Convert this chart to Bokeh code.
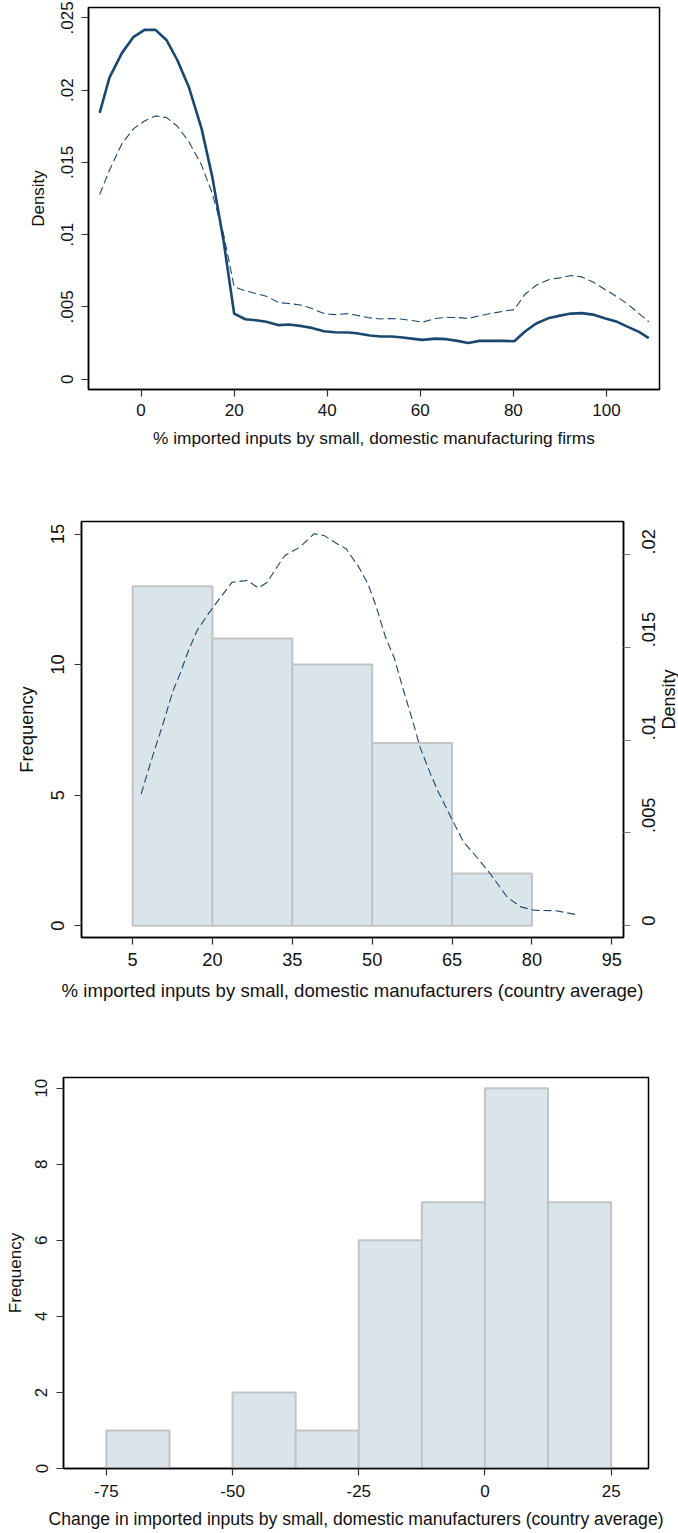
import math
from bokeh.plotting import figure
from bokeh.layouts import column
from bokeh.models import Range1d, FixedTicker, LinearAxis, CustomJSTickFormatter
from bokeh.embed import file_html
from bokeh.resources import INLINE

# ---------------- data ----------------
# Panel 1: kernel densities
k_x = [-8.9, -6.8, -4.1, -1.6, 0.75, 3.1, 5.5, 7.8, 10.3, 13.0, 15.3, 17.7, 20.0, 22.4, 24.7,
       26.9, 29.6, 31.8, 34.6, 36.7, 39.3, 41.6, 44.5, 46.3, 49.2, 51.5, 53.9, 56.2, 58.6,
       60.4, 63.3, 65.6, 68.0, 70.3, 72.7, 75.0, 77.8, 80.2, 82.5, 84.9, 87.7, 90.0, 92.4,
       94.7, 97.1, 99.6, 102.3, 104.6, 107.0, 109.1]
k_solid = [0.01843, 0.02087, 0.02258, 0.02369, 0.02417, 0.02417, 0.02345, 0.02207, 0.02018,
           0.01734, 0.01400, 0.00962, 0.00454, 0.00415, 0.00408, 0.00397, 0.00374, 0.00378,
           0.00367, 0.00355, 0.00332, 0.00325, 0.00323, 0.00318, 0.00302, 0.00295, 0.00295,
           0.00288, 0.00279, 0.00272, 0.00281, 0.00277, 0.00265, 0.00251, 0.00265, 0.00265,
           0.00265, 0.00263, 0.00330, 0.00385, 0.00424, 0.00440, 0.00454, 0.00457, 0.00447,
           0.00422, 0.00397, 0.00362, 0.00327, 0.00284]
k_dashed = [0.01278, 0.01446, 0.01631, 0.01734, 0.01787, 0.01822, 0.01810, 0.01750, 0.01642,
            0.01481, 0.01285, 0.01008, 0.00639, 0.00611, 0.00593, 0.00574, 0.00530, 0.00524,
            0.00512, 0.00489, 0.00454, 0.00447, 0.00454, 0.00443, 0.00424, 0.00417, 0.00420,
            0.00415, 0.00404, 0.00394, 0.00420, 0.00427, 0.00427, 0.00420, 0.00438, 0.00454,
            0.00470, 0.00482, 0.00588, 0.00650, 0.00690, 0.00701, 0.00717, 0.00708, 0.00673,
            0.00623, 0.00570, 0.00519, 0.00454, 0.00397]
p1_xticks = [0, 20, 40, 60, 80, 100]
p1_yticks = [0, 0.005, 0.01, 0.015, 0.02, 0.025]

# Panel 2: histogram + density
h2_edges = [5, 20, 35, 50, 65, 80]
h2_counts = [13, 11, 10, 7, 2]
d2_x = [6.6, 8.5, 10.6, 12.6, 13.9, 15.5, 17.1, 19.2, 21.3, 23.7, 26.6, 28.6, 30.3, 32.3,
        33.6, 36.4, 39.1, 41.0, 43.4, 45.1, 47.5, 49.2, 50.8, 52.5, 54.1, 55.7, 57.4, 59.0,
        60.7, 62.3, 64.8, 67.2, 69.7, 72.2, 75.4, 77.9, 80.4, 84.5, 88.6]
d2_y = [0.0071, 0.0089, 0.01078, 0.01267, 0.01357, 0.01483, 0.0159, 0.0168, 0.01761, 0.01851,
        0.0186, 0.0182, 0.01851, 0.01941, 0.01995, 0.0204, 0.02112, 0.02102, 0.02058, 0.02031,
        0.01932, 0.01842, 0.01716, 0.01554, 0.01447, 0.01285, 0.01123, 0.00961, 0.00836,
        0.00728, 0.00584, 0.00449, 0.00368, 0.00279, 0.00153, 0.00102, 0.00084, 0.00081,
        0.00059]
p2_xticks = [5, 20, 35, 50, 65, 80, 95]
p2_yticks = [0, 5, 10, 15]
p2_dticks = [0, 0.005, 0.01, 0.015, 0.02]

# Panel 3: histogram of change
h3_edges = [-75, -62.5, -50, -37.5, -25, -12.5, 0, 12.5, 25]
h3_counts = [1, 0, 2, 1, 6, 7, 10, 7]
p3_xticks = [-75, -50, -25, 0, 25]
p3_yticks = [0, 2, 4, 6, 8, 10]

# ---------------- style ----------------
NAVY = "#1a476f"
FILL = "#d9e5eb"
EDGE = "#c3c3c3"
FONT = "Liberation Sans"

fmt_dec = CustomJSTickFormatter(code="""
if (Math.abs(tick) < 1e-12) return "0";
var s = tick.toFixed(3).replace(/0+$/, "");
return s.replace(/^0/, "");
""")
fmt_int = CustomJSTickFormatter(code="return String(Math.round(tick));")


def style_axis(ax, horizontal, tick_fs, label_fs, ls, als):
    ax.axis_line_color = "black"
    ax.axis_line_width = 1.5
    ax.major_tick_line_color = "#333333"
    ax.major_tick_line_width = 1.2
    ax.major_tick_out = 7
    ax.major_tick_in = 0
    ax.minor_tick_line_color = None
    ax.major_label_text_font = FONT
    ax.axis_label_text_font = FONT
    ax.axis_label_text_font_style = "normal"
    ax.major_label_text_color = "#111111"
    ax.axis_label_text_color = "#111111"
    ax.major_label_text_font_size = tick_fs
    ax.axis_label_text_font_size = label_fs
    ax.major_label_standoff = ls
    ax.axis_label_standoff = als
    if not horizontal:
        ax.major_label_orientation = "vertical"


def base_fig(fw, fh, xr, yr, bl, bt, bb, br):
    p = figure(frame_width=fw, frame_height=fh, x_range=xr, y_range=yr,
               output_backend="svg", toolbar_location=None,
               min_border_left=bl, min_border_top=bt, min_border_bottom=bb,
               min_border_right=br)
    p.frame_align = False
    p.xgrid.visible = False
    p.ygrid.visible = False
    p.outline_line_color = "black"
    p.outline_line_width = 1.5
    p.background_fill_color = "white"
    p.border_fill_color = "white"
    return p


# ---------------- panel 1 ----------------
p1 = base_fig(571, 382, Range1d(-11.3, 111.4), Range1d(-0.000713, 0.02572), 88, 7, 81, 19)
p1.line(k_x, k_dashed, line_color=NAVY, line_width=1.1, line_dash="8 4")
p1.line(k_x, k_solid, line_color=NAVY, line_width=2.6)
p1.xaxis.ticker = FixedTicker(ticks=p1_xticks)
p1.yaxis.ticker = FixedTicker(ticks=p1_yticks)
p1.yaxis.formatter = fmt_dec
p1.xaxis.axis_label = "% imported inputs by small, domestic manufacturing firms"
p1.yaxis.axis_label = "Density"
style_axis(p1.xaxis[0], True, "17px", "17.3px", 7, 9)
style_axis(p1.yaxis[0], False, "17px", "17px", 8, 11)

# ---------------- panel 2 ----------------
p2 = base_fig(542, 416, Range1d(-4.6, 97.2), Range1d(-0.45, 15.48), 81, 51, 93, 55)
p2.extra_y_ranges = {"dens": Range1d(-0.00063, 0.02178)}
p2.quad(left=h2_edges[:-1], right=h2_edges[1:], bottom=0, top=h2_counts,
        fill_color=FILL, line_color=EDGE, line_width=2)
p2.line(d2_x, d2_y, y_range_name="dens", line_color=NAVY, line_width=1.1, line_dash="8 4")
p2.xaxis.ticker = FixedTicker(ticks=p2_xticks)
p2.yaxis.ticker = FixedTicker(ticks=p2_yticks)
p2.xaxis.axis_label = "% imported inputs by small, domestic manufacturers (country average)"
p2.yaxis.axis_label = "Frequency"
style_axis(p2.xaxis[0], True, "18.2px", "18.6px", 8, 11)
style_axis(p2.yaxis[0], False, "18.2px", "18.3px", 10, 12)
rax = LinearAxis(y_range_name="dens", ticker=FixedTicker(ticks=p2_dticks),
                 formatter=fmt_dec, axis_label="Density")
style_axis(rax, False, "18.2px", "18px", 18, 4)
rax.major_tick_line_color = "#7a7a7a"
rax.major_label_orientation = math.pi / 2
rax.axis_label_orientation = math.pi / 2
p2.add_layout(rax, "right")

# ---------------- panel 3 ----------------
p3 = base_fig(585, 391, Range1d(-83.5, 32.4), Range1d(0, 10.28), 63, 47, 65, 30)
nz = [i for i, c in enumerate(h3_counts) if c > 0]
p3.quad(left=[h3_edges[i] for i in nz], right=[h3_edges[i + 1] for i in nz], bottom=0,
        top=[h3_counts[i] for i in nz], fill_color=FILL, line_color=EDGE, line_width=2)
p3.xaxis.ticker = FixedTicker(ticks=p3_xticks)
p3.xaxis.formatter = fmt_int
p3.yaxis.ticker = FixedTicker(ticks=p3_yticks)
p3.xaxis.axis_label = "Change in imported inputs by small, domestic manufacturers (country average)"
p3.yaxis.axis_label = "Frequency"
style_axis(p3.xaxis[0], True, "17px", "17.6px", 9, 9)
style_axis(p3.yaxis[0], False, "17px", "17px", 9, 8)

layout = column(p1, p2, p3, spacing=0)
open("out.html", "w").write(file_html(layout, INLINE))
